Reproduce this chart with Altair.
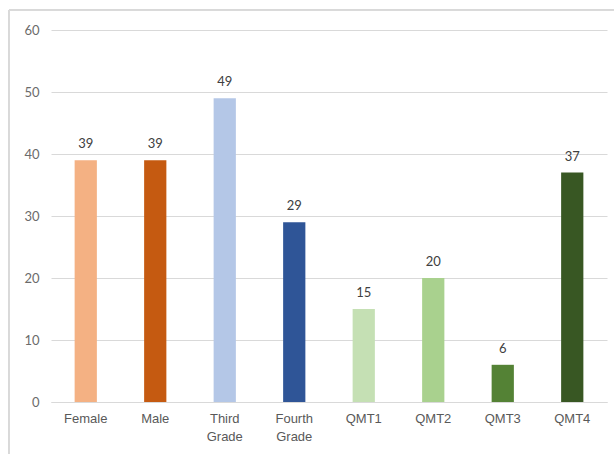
import altair as alt
import pandas as pd

categories = ["Female", "Male", "Third Grade", "Fourth Grade", "QMT1", "QMT2", "QMT3", "QMT4"]
values = [39, 39, 49, 29, 15, 20, 6, 37]
colors = ["#F4B183", "#C55A11", "#B4C7E7", "#2F5597", "#C5E0B4", "#A9D18E", "#548235", "#385723"]
y_ticks = [0, 10, 20, 30, 40, 50, 60]

df = pd.DataFrame({"category": categories, "value": values, "color": colors})

x_enc = alt.X("category:N", sort=categories, title=None,
              scale=alt.Scale(paddingInner=0.68, paddingOuter=0.34),
              axis=alt.Axis(labelAngle=0, labelExpr="split(datum.label, ' ')",
                            labelFont="Liberation Sans", labelFontSize=13, labelColor="#595959",
                            labelPadding=10, ticks=False, domainColor="#D9D9D9",
                            labelLineHeight=18))
y_enc = alt.Y("value:Q", title=None,
              scale=alt.Scale(domain=[0, 60], nice=False),
              axis=alt.Axis(values=y_ticks, labelFont="Lato", labelFontSize=13,
                            labelColor="#6B6B6B", ticks=False, domain=False,
                            gridColor="#D9D9D9", labelPadding=12))

bars = alt.Chart(df).mark_bar().encode(
    x=x_enc, y=y_enc,
    color=alt.Color("color:N", scale=None),
)

text = alt.Chart(df).mark_text(dy=-16, font="Lato", fontSize=13, color="#404040").encode(
    x=alt.X("category:N", sort=categories),
    y="value:Q",
    text="value:Q",
)

left_border = alt.Chart(df).mark_rule(color="#D9D9D9", strokeWidth=1).encode(
    x=alt.value(-42), y=alt.value(-20), y2=alt.value(430)
)
top_border = alt.Chart(df).mark_rule(color="#D9D9D9", strokeWidth=1).encode(
    x=alt.value(-42), x2=alt.value(570), y=alt.value(-20)
)

chart = alt.layer(bars, text, left_border, top_border).properties(
    width=556, height=372,
    autosize=alt.AutoSizeParams(type="none"),
    padding={"left": 51, "top": 30, "right": 7, "bottom": 52},
    background="white",
).configure_view(stroke=None)

chart.save("out.html", embed_options={"renderer": "svg", "actions": False})
